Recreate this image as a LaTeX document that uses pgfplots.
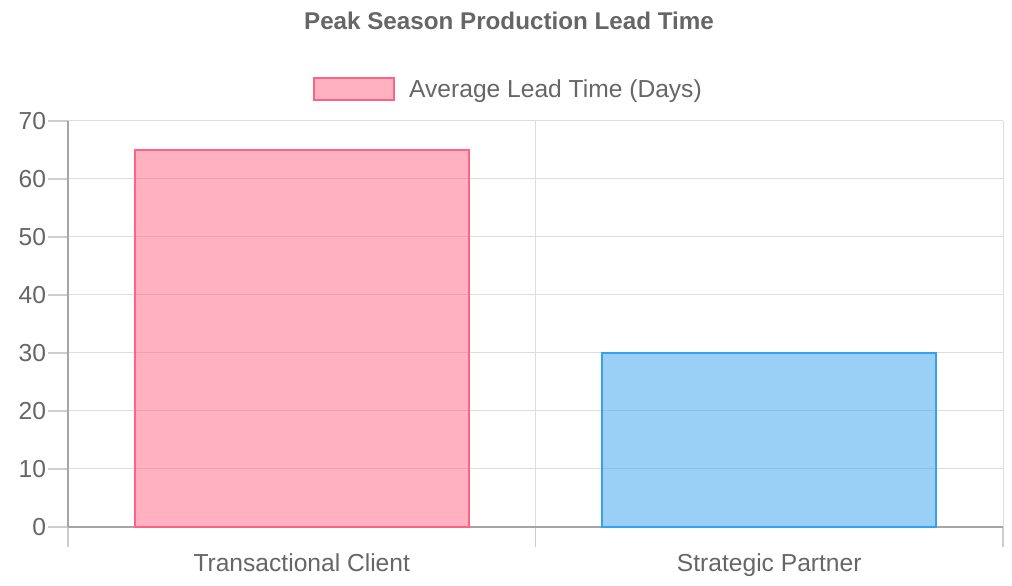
\documentclass[border=0pt]{standalone}
\usepackage{fontspec}
\setmainfont{Liberation Sans}
\usepackage{pgfplots}
\pgfplotsset{compat=1.18}
\definecolor{txt}{HTML}{666666}
\definecolor{gridc}{RGB}{221,221,221}
\definecolor{tickc}{RGB}{205,205,205}
\definecolor{axc}{RGB}{165,165,165}
\definecolor{pinkb}{RGB}{255,99,132}
\definecolor{blueb}{RGB}{54,162,235}
\begin{document}
\begin{tikzpicture}[x=1bp,y=1bp]
\path[use as bounding box] (0,0) rectangle (1012,586);
\node[font=\fontsize{24.2bp}{28bp}\selectfont\bfseries, text=txt] at (509,565) {Peak Season Production Lead Time};
\begin{axis}[
 at={(68bp,59bp)}, anchor=south west,
 scale only axis, width=935bp, height=406bp,
 xmin=-0.5, xmax=1.5, ymin=0, ymax=70,
 ytick={0,10,...,70},
 xtick={-0.5,0.5,1.5},
 x tick label as interval,
 xticklabels={Transactional Client, Strategic Partner},
 grid=major, major grid style={gridc, line width=1bp},
 axis x line*=bottom, axis y line*=left,
 axis line style={axc, line width=1.2bp, -},
 xtick align=outside, ytick align=outside, major tick length=20bp,
 xtick pos=bottom, ytick pos=left,
 xtick style={draw=tickc, line width=1.2bp},
 ytick style={draw=tickc, line width=1.2bp},
 /pgf/number format/assume math mode=true,
 tick label style={font=\fontsize{24.6bp}{28bp}\selectfont, text=txt},
 xticklabel style={yshift=-3bp},
 yticklabel style={xshift=1.5bp},
 legend style={at={(0.4711,1.0788)}, anchor=center, draw=none, fill=none,
   font=\fontsize{24.6bp}{28bp}\selectfont, text=txt, inner sep=0pt},
 legend cell align=left,
 clip=false,
]
\addplot[ybar, bar width=334bp, bar shift=0pt, draw=pinkb, line width=2bp, fill=pinkb, fill opacity=0.5,
  legend image code/.code={\path[draw=none,fill=none] (0bp,0bp) rectangle (93bp,0.1bp);\draw[draw=pinkb, line width=2bp, fill=pinkb, fill opacity=0.5] (0bp,-11bp) rectangle (80bp,11bp);}]
  coordinates {(0,65)};
\addlegendentry{Average Lead Time (Days)}
\addplot[ybar, bar width=334bp, bar shift=0pt, draw=blueb, line width=2bp, fill=blueb, fill opacity=0.5, forget plot]
  coordinates {(1,30)};
\end{axis}
\end{tikzpicture}
\end{document}
